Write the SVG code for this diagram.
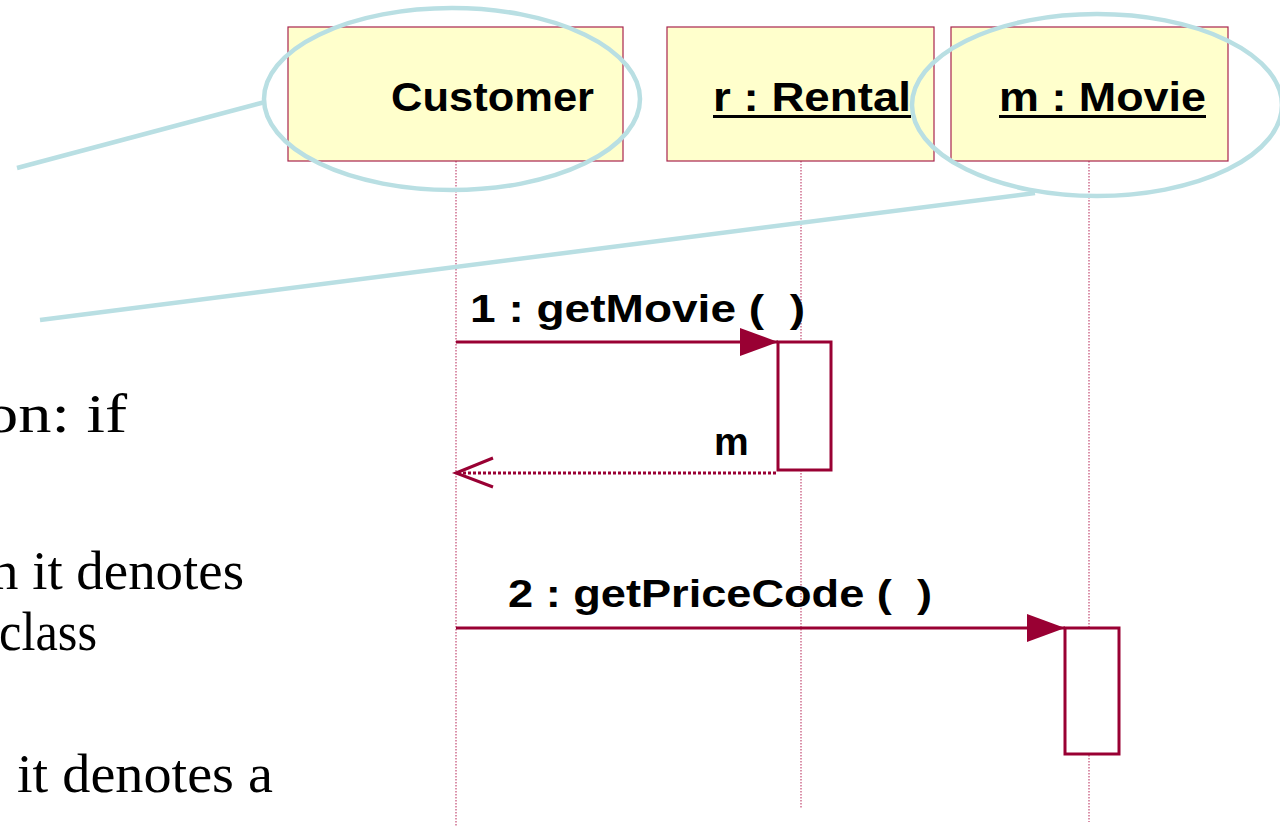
<svg xmlns="http://www.w3.org/2000/svg" width="1280" height="826" viewBox="0 0 1280 826">
<style>
.obj{fill:#ffffcc;stroke:#a8244e;stroke-width:1.2}
.lbl{font-family:"Liberation Sans",Arial,sans-serif;font-weight:bold;fill:#000}
.life{stroke:#c24a72;stroke-width:1.2;stroke-dasharray:1.5 1.5;fill:none}
.msg{stroke:#990033;stroke-width:3;fill:none}
.act{fill:#fff;stroke:#990033;stroke-width:3}
.note{fill:none;stroke:#b9dfe3;stroke-width:4.5}
.body{font-family:"Liberation Serif","Times New Roman",serif;font-size:54px;fill:#000}
</style>
<defs>
<marker id="solid" markerWidth="40" markerHeight="30" refX="38" refY="14" orient="auto" markerUnits="userSpaceOnUse">
<path d="M0,0 L38,14 L0,28 Z" fill="#990033"/>
</marker>
</defs>
<g id="bodytext">
<text class="body" x="-15" y="432" textLength="142" lengthAdjust="spacingAndGlyphs">on: if</text>
<text class="body" x="-9" y="589" textLength="253" lengthAdjust="spacingAndGlyphs">n it denotes</text>
<text class="body" x="-1" y="650" textLength="98" lengthAdjust="spacingAndGlyphs">class</text>
<text class="body" x="17" y="792" textLength="256" lengthAdjust="spacingAndGlyphs">it denotes a</text>
</g>
<g id="lifelines">
<line class="life" x1="456" y1="161" x2="456" y2="826"/>
<line class="life" x1="801" y1="161" x2="801" y2="808"/>
<line class="life" x1="1089" y1="161" x2="1089" y2="822"/>
</g>
<g id="customer">
<rect class="obj" x="288" y="27" width="335" height="134"/>
<text class="lbl" x="391" y="111" font-size="41" textLength="203" lengthAdjust="spacingAndGlyphs">Customer</text>
</g>
<g id="rental">
<rect class="obj" x="667" y="27" width="267" height="134"/>
<text class="lbl" x="713" y="111" font-size="41" textLength="198" lengthAdjust="spacingAndGlyphs">r : Rental</text>
<line x1="713" y1="116.5" x2="911" y2="116.5" stroke="#000" stroke-width="3"/>
</g>
<g id="movie">
<rect class="obj" x="951" y="27" width="277" height="134"/>
<text class="lbl" x="999" y="111" font-size="41" textLength="207" lengthAdjust="spacingAndGlyphs">m : Movie</text>
<line x1="999" y1="116.5" x2="1206" y2="116.5" stroke="#000" stroke-width="3"/>
</g>
<g id="activations">
<rect class="act" x="778" y="342" width="53" height="128"/>
<rect class="act" x="1065" y="628" width="54" height="126"/>
</g>
<g id="connectors">
<line class="msg" x1="456" y1="342" x2="778" y2="342" marker-end="url(#solid)"/>
<line x1="776" y1="473" x2="458" y2="473" stroke="#990033" stroke-width="3" stroke-dasharray="3 2"/>
<polyline points="493,458 456,473 493,487" fill="none" stroke="#990033" stroke-width="3"/>
<line class="msg" x1="456" y1="628" x2="1065" y2="628" marker-end="url(#solid)"/>
<text class="lbl" x="470" y="322" font-size="39" textLength="335" lengthAdjust="spacingAndGlyphs">1 : getMovie ( &#160;)</text>
<text class="lbl" x="714" y="455" font-size="39">m</text>
<text class="lbl" x="508" y="607" font-size="39" textLength="424" lengthAdjust="spacingAndGlyphs">2 : getPriceCode ( &#160;)</text>
</g>
<g id="annotations">
<ellipse class="note" cx="452" cy="99" rx="188" ry="91"/>
<line class="note" x1="17" y1="168" x2="265" y2="102"/>
<ellipse class="note" cx="1097" cy="105" rx="185" ry="91"/>
<line class="note" x1="40" y1="320" x2="1035" y2="193"/>
</g>
</svg>
